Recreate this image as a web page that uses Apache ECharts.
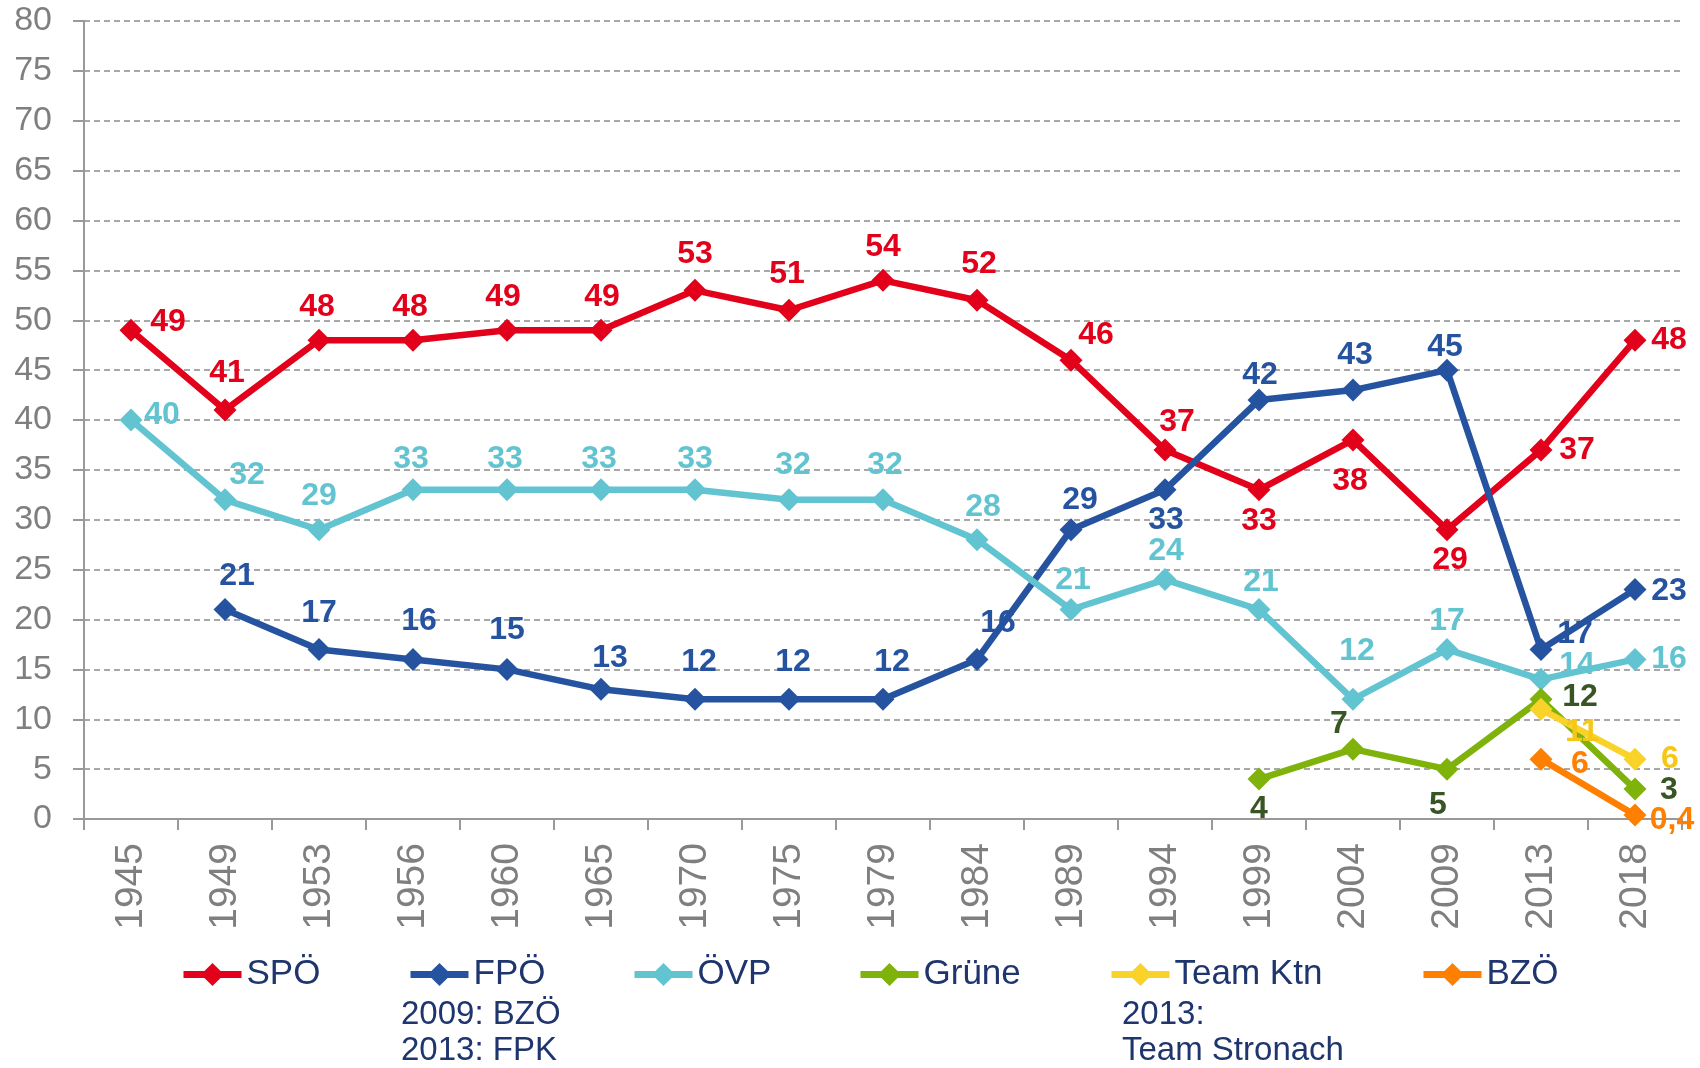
<!DOCTYPE html>
<html>
<head>
<meta charset="utf-8">
<script src="https://cdn.jsdelivr.net/npm/echarts@6/dist/echarts.min.js"></script>
<style>
html,body{margin:0;padding:0;background:#fff;}
#chart{width:1700px;height:1068px;}
</style>
</head>
<body>
<div id="chart"></div>
<script>
// ---- data ----
var years = ['1945','1949','1953','1956','1960','1965','1970','1975','1979','1984','1989','1994','1999','2004','2009','2013','2018'];
var yTicks = [0,5,10,15,20,25,30,35,40,45,50,55,60,65,70,75,80];
var spo   = [49,41,48,48,49,49,53,51,54,52,46,37,33,38,29,37,48];
var fpo   = [null,21,17,16,15,13,12,12,12,16,29,33,42,43,45,17,23];
var ovp   = [40,32,29,33,33,33,33,32,32,28,21,24,21,12,17,14,16];
var gruene  = [null,null,null,null,null,null,null,null,null,null,null,null,4,7,5,12,3];
var teamKtn = [null,null,null,null,null,null,null,null,null,null,null,null,null,null,null,11,6];
var bzo     = [null,null,null,null,null,null,null,null,null,null,null,null,null,null,null,6,0.4];
var seriesNames = ['SPÖ','FPÖ','ÖVP','Grüne','Team Ktn','BZÖ'];
var noteFPO = ['2009: BZÖ','2013: FPK'];
var noteTeam = ['2013:','Team Stronach'];

// ---- layout (label offsets in px, relative to point) ----
var offSPO = [[37,-8],[2,-37],[-2,-33],[-3,-33],[-4,-33],[1,-33],[0,-36],[-2,-36],[0,-33],[2,-36],[25,-25],[12,-28],[0,31],[-3,41],[3,30],[36,0],[34,0]];
var offFPO = [null,[12,-33],[0,-36],[6,-38],[0,-39],[9,-31],[4,-37],[4,-37],[9,-37],[21,-36],[9,-30],[1,30],[1,-25],[2,-35],[-2,-23],[34,-15],[34,2]];
var offOVP = [[31,-5],[22,-25],[0,-34],[-2,-31],[-2,-31],[-2,-31],[0,-31],[4,-35],[2,-35],[6,-33],[2,-29],[1,-28],[2,-27],[4,-48],[0,-28],[36,-14],[34,0]];
var offGR  = [null,null,null,null,null,null,null,null,null,null,null,null,[0,30],[-14,-25],[-9,36],[39,-2],[34,1]];
var offTK  = [null,null,null,null,null,null,null,null,null,null,null,null,null,null,null,[41,23],[35,0]];
var offBZ  = [null,null,null,null,null,null,null,null,null,null,null,null,null,null,null,[39,5],[37,5]];

var colors = ['#E2001A','#2653A0','#63C4D1','#7FB30B','#F9D22A','#FF7F00'];
var labelColors = ['#E2001A','#2653A0','#63C4D1','#375623','#F5C818','#FF7F00'];
var FONT = '"Liberation Sans", Arial, sans-serif';

function fmt(v){ return String(v).replace('.', ','); }

function buildData(vals, offs, lc){
  return vals.map(function(v, i){
    if (v === null) return {value: null};
    var o = offs[i] || [0,-34];
    return {
      value: v,
      label: {
        show: true, position: 'inside', offset: o,
        formatter: fmt(v), color: lc,
        fontFamily: FONT, fontWeight: 'bold', fontSize: 32
      }
    };
  });
}

var allVals = [spo, fpo, ovp, gruene, teamKtn, bzo];
var allOffs = [offSPO, offFPO, offOVP, offGR, offTK, offBZ];

var series = seriesNames.map(function(n, k){
  return {
    name: n, type: 'line',
    data: buildData(allVals[k], allOffs[k], labelColors[k]),
    symbol: 'diamond', symbolSize: 23,
    lineStyle: {width: 6.5, color: colors[k]},
    itemStyle: {color: colors[k]},
    connectNulls: false,
    animation: false,
    z: 2 + k
  };
});

var legendLefts = [175, 402, 626, 852, 1103, 1415];
var legends = seriesNames.map(function(n, k){
  return {
    data: [n], left: legendLefts[k], top: 952,
    itemWidth: 58, itemHeight: 29, itemGap: 0,
    lineStyle: {width: 7},
    textStyle: {color: '#1F356E', fontSize: 35, fontFamily: FONT},
    selectedMode: false
  };
});

function noteText(lines, x, y){
  return lines.map(function(t, i){
    return {type: 'text', left: x, top: y + i*36,
      style: {text: t, fill: '#1F356E', font: '33px ' + FONT}};
  });
}

var option = {
  backgroundColor: '#fff',
  animation: false,
  grid: {left: 84, right: 18, top: 21, bottom: 249, containLabel: false},
  legend: legends,
  xAxis: {
    type: 'category', data: years, boundaryGap: true,
    axisLine: {lineStyle: {color: '#999999', width: 2}},
    axisTick: {show: true, length: 11, lineStyle: {color: '#999999', width: 2}},
    axisLabel: {rotate: 90, color: '#7F7F7F', fontSize: 39, fontFamily: FONT, margin: 24}
  },
  yAxis: {
    type: 'value', min: yTicks[0], max: yTicks[yTicks.length-1], interval: yTicks[1]-yTicks[0],
    axisLine: {show: true, lineStyle: {color: '#999999', width: 2}},
    axisTick: {show: true, length: 11, lineStyle: {color: '#999999', width: 2}},
    axisLabel: {color: '#7F7F7F', fontSize: 34, fontFamily: FONT, margin: 32},
    splitLine: {lineStyle: {color: '#8C8C8C', width: 1.5, type: [6,4]}}
  },
  graphic: noteText(noteFPO, 401, 998).concat(noteText(noteTeam, 1122, 998)),
  series: series
};

var chart = echarts.init(document.getElementById('chart'), null, {renderer: 'canvas'});
chart.setOption(option);
</script>
</body>
</html>
